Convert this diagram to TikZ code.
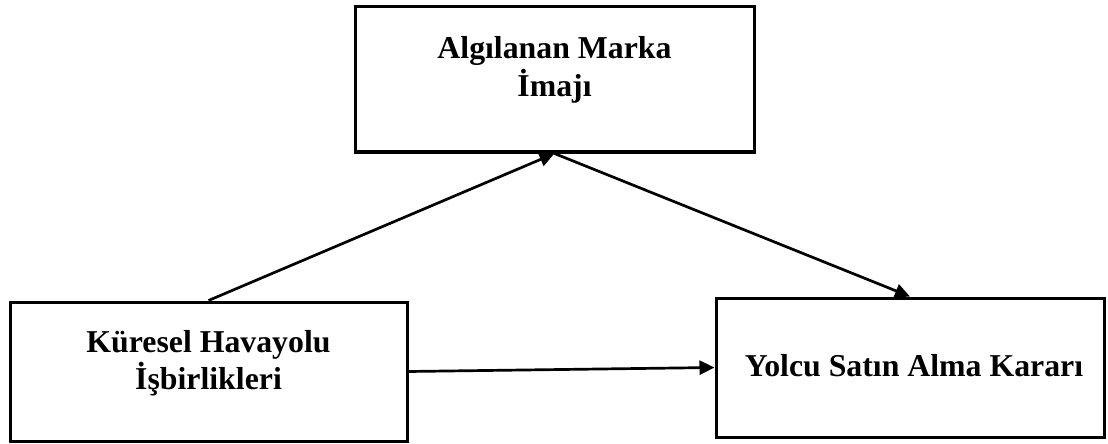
\documentclass[tikz,border=0pt]{standalone}
\usepackage{fontspec}
\setmainfont{Liberation Serif}
\usetikzlibrary{arrows.meta}

\begin{document}
\begin{tikzpicture}[x=0.5pt, y=-0.5pt, every node/.style={font=\bfseries\fontsize{15.9}{18.7}\selectfont}, >={Triangle[length=7.5pt, width=7pt]},
	box/.style={draw, line width=1.5pt, inner sep=0pt},
	lbl/.style={align=center, inner sep=0pt},
	link/.style={->, line width=1.35pt}]
	\useasboundingbox (0,0) rectangle (1108,444);
	% boxes
	\node[box, minimum width=199.5pt, minimum height=72.5pt] (img) at (554.5,79.5) {};
	\node[box, minimum width=198.5pt, minimum height=69.5pt] (lft) at (208.5,371.5) {};
	\node[box, minimum width=194pt, minimum height=69.5pt] (rgt) at (910,367.5) {};
	% texts
	\node[lbl] (imgtxt) at (554.5,70) {Algılanan Marka\\İmajı};
	\node[lbl] (lfttxt) at (208.5,363) {Küresel Havayolu\\İşbirlikleri};
	\node[lbl] (rgttxt) at (914,366) {Yolcu Satın Alma Kararı};
	% links
	\draw[link] (lft.north) -- (img.south);
	\draw[link] (img.south) -- (rgt.north);
	\draw[link] (lft.east) -- (rgt.west);
\end{tikzpicture}
\end{document}
